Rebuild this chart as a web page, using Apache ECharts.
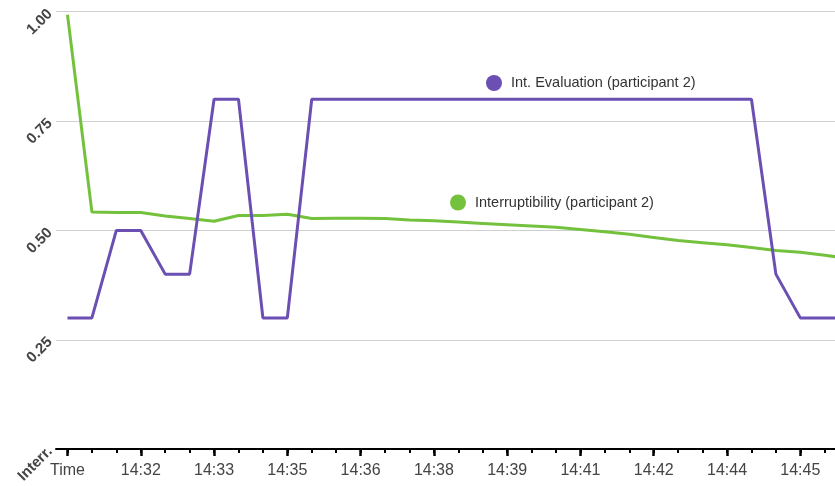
<!DOCTYPE html>
<html>
<head>
<meta charset="utf-8">
<script src="https://cdn.jsdelivr.net/npm/echarts@6/dist/echarts.min.js"></script>
<style>
html,body{margin:0;padding:0;background:#fff;}
#chart{width:835px;height:486px;}
</style>
</head>
<body>
<div id="chart"></div>
<script>
// Time categories (one sample every 30 s); index 0 is the axis caption
var categories = ["Time","14:31","14:31","14:32","14:32","14:33","14:33","14:34","14:34","14:35","14:35",
  "14:36","14:36","14:37","14:37","14:38","14:38","14:39","14:39","14:40","14:40",
  "14:41","14:41","14:42","14:42","14:43","14:43","14:44","14:44","14:45","14:45","14:46","14:46"];
var labelIndices = [0,3,6,9,12,15,18,21,24,27,30];
var yTicks = [0, 0.25, 0.5, 0.75, 1];
var yTickLabels = ["Interr.", "0.25", "0.50", "0.75", "1.00"];

var seriesNames = ["Int. Evaluation (participant 2)", "Interruptibility (participant 2)"];
var evaluation = [0.30,0.30,0.50,0.50,0.40,0.40,0.80,0.80,0.30,0.30,
  0.80,0.80,0.80,0.80,0.80,0.80,0.80,0.80,0.80,0.80,
  0.80,0.80,0.80,0.80,0.80,0.80,0.80,0.80,0.80,0.40,0.30,0.30,0.30];
var interruptibility = [0.993,0.542,0.541,0.541,0.533,0.527,0.521,0.534,0.534,0.537,
  0.527,0.528,0.528,0.527,0.524,0.522,0.519,0.516,0.513,0.510,
  0.507,0.502,0.497,0.491,0.484,0.477,0.472,0.467,0.461,0.454,0.450,0.443,0.436];

function pairs(arr){ return arr.map(function(v,i){ return [i, v]; }); }
var allIdx = categories.map(function(c,i){ return i; });

var chart = echarts.init(document.getElementById('chart'), null, {renderer:'canvas'});
var font = 'Liberation Sans, Arial, sans-serif';
chart.setOption({
  animation:false,
  backgroundColor:'#ffffff',
  textStyle:{fontFamily:font},
  grid:{left:56, right:0, top:11.7, bottom:35.9, containLabel:false},
  legend:[
    {data:[seriesNames[0]], left:486, top:75, padding:0, icon:'circle', itemWidth:16, itemHeight:16,
     textStyle:{fontSize:14.5, color:'#333', fontFamily:font, padding:[0,0,0,4]}},
    {data:[seriesNames[1]], left:450, top:194.5, padding:0, icon:'circle', itemWidth:16, itemHeight:16,
     textStyle:{fontSize:14.5, color:'#333', fontFamily:font, padding:[0,0,0,4]}}
  ],
  xAxis:[
    {type:'value', position:'bottom', min:-0.47, max:31.42,
     axisLine:{show:true, lineStyle:{color:'#000', width:2}},
     axisTick:{show:true, customValues:allIdx, length:4, lineStyle:{color:'#000', width:2}},
     axisLabel:{show:false}, splitLine:{show:false}},
    {type:'value', position:'bottom', min:-0.47, max:31.42,
     axisLine:{show:false},
     axisTick:{show:true, customValues:labelIndices, length:7, lineStyle:{color:'#000', width:2.5}},
     axisLabel:{show:true, customValues:labelIndices, margin:13, fontSize:16, color:'#444', fontFamily:font,
       formatter:function(v){ return categories[Math.round(v)]; }},
     splitLine:{show:false}}
  ],
  yAxis:{type:'value', min:0, max:1, interval:0.25,
    axisLine:{show:false}, axisTick:{show:false},
    splitLine:{show:true, lineStyle:{color:'#cfcfcf', width:1}},
    axisLabel:{rotate:45, margin:6, fontSize:15, fontWeight:'bold', color:'#444', fontFamily:font,
      formatter:function(v){ var k = yTicks.indexOf(v); return k >= 0 ? yTickLabels[k] : ''; }}},
  series:[
    {name:seriesNames[0], type:'line', xAxisIndex:0, data:pairs(evaluation), showSymbol:false, symbol:'circle',
     color:'#6b4fb3', lineStyle:{width:3, color:'#6b4fb3'}, z:3},
    {name:seriesNames[1], type:'line', xAxisIndex:0, data:pairs(interruptibility), showSymbol:false, symbol:'circle',
     color:'#74c13e', lineStyle:{width:3, color:'#74c13e'}, z:2}
  ]
});
</script>
</body>
</html>
